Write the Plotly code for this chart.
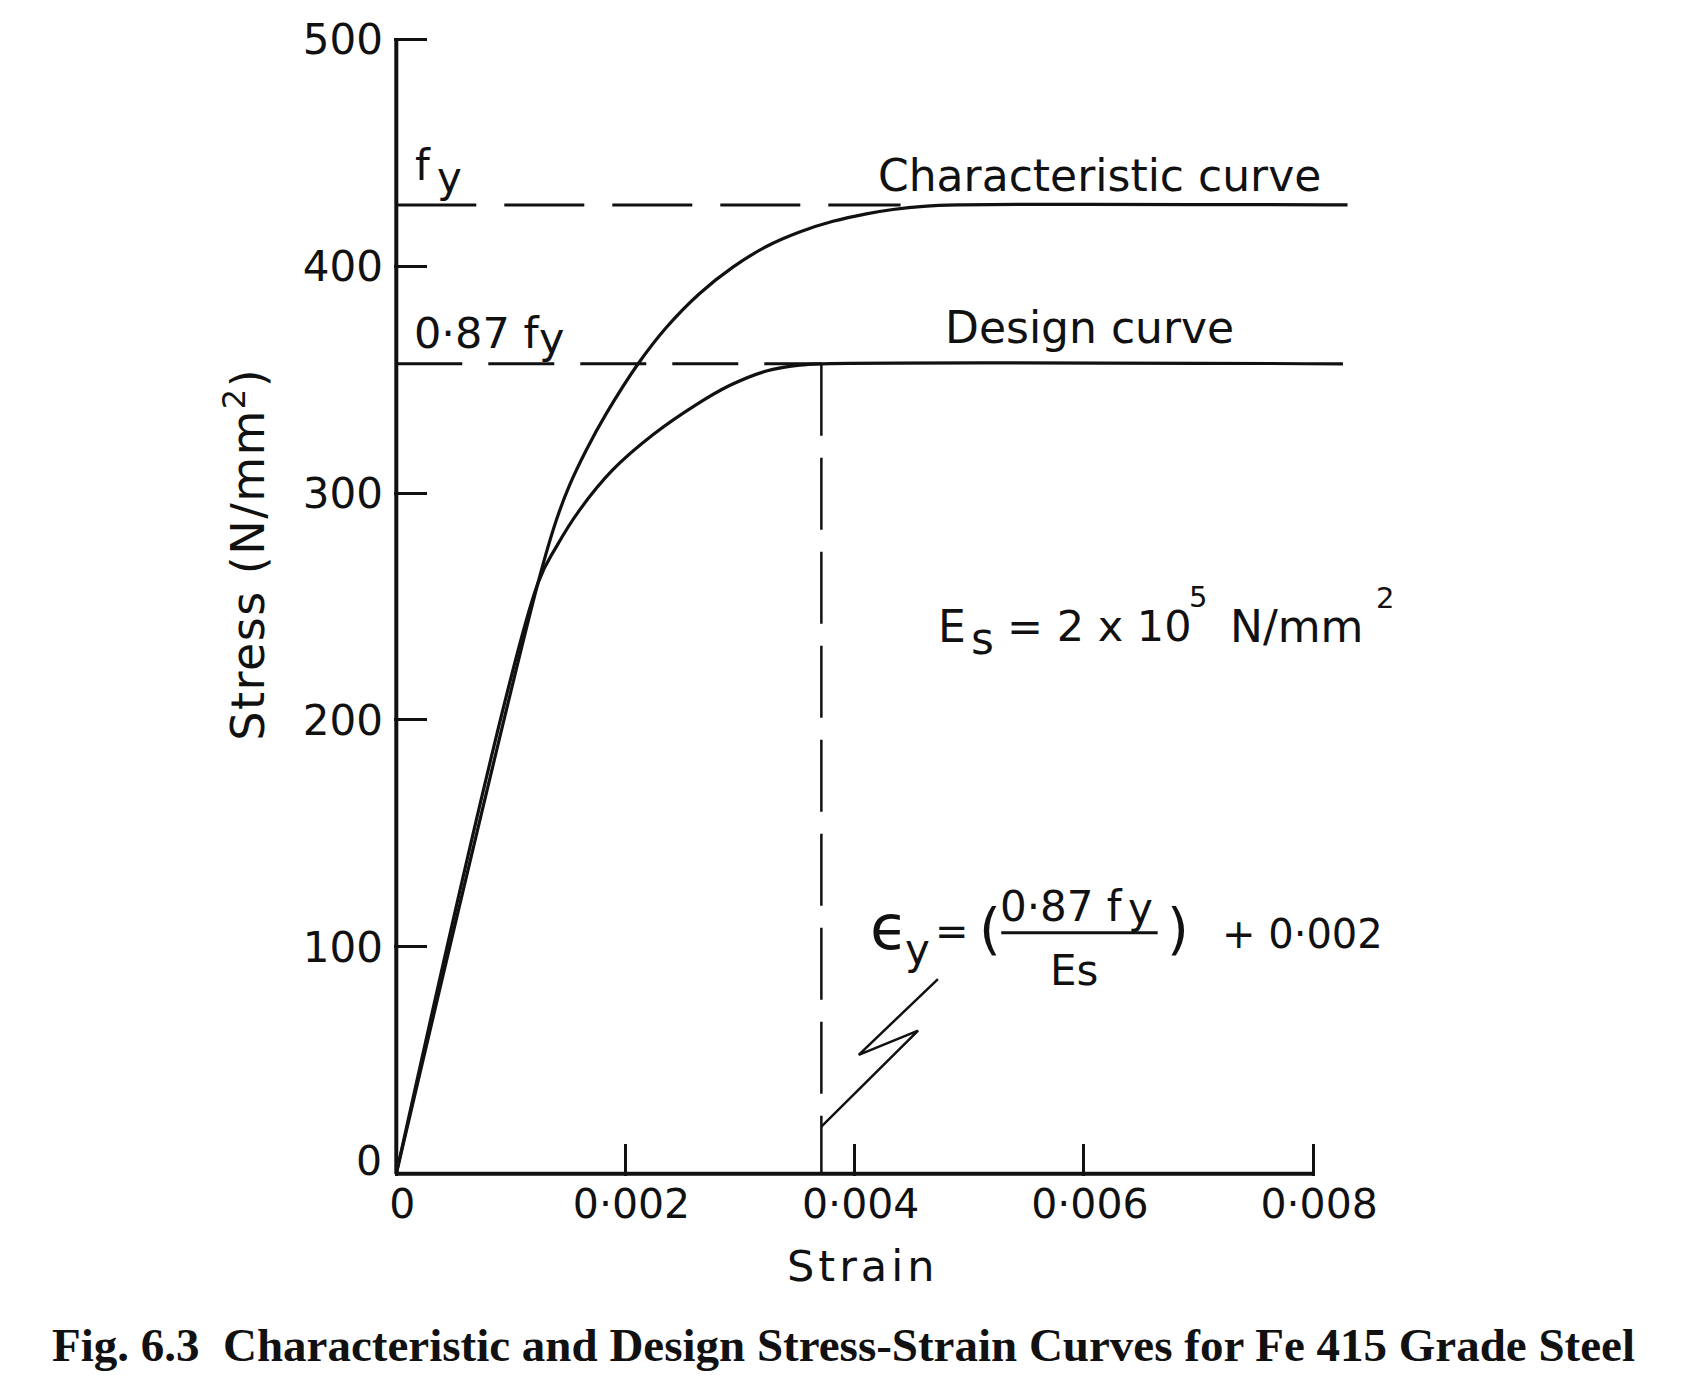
import plotly.graph_objects as go

# ---------------- data ----------------
# Characteristic stress-strain curve
char_strain = [0, 0.001236, 0.001396, 0.001512, 0.001658, 0.001832, 0.002110, 0.002356,
               0.002647, 0.002937, 0.003229, 0.003519, 0.003810, 0.004101, 0.004333,
               0.0046, 0.0049, 0.0083]
char_stress = [0, 260.3, 288.0, 303.5, 319.0, 335.0, 357.0, 373.0,
               388.0, 399.6, 408.7, 415.1, 419.8, 423.1, 425.0,
               426.4, 427.0, 427.0]

# Design stress-strain curve
design_strain = [0, 0.001236, 0.001396, 0.001599, 0.001890, 0.002239, 0.002618,
                 0.002908, 0.003229, 0.003519, 0.003709, 0.00826]
design_stress = [0, 260.3, 276.3, 292.5, 310.3, 325.7, 339.0,
                 347.4, 353.8, 356.4, 357.0, 357.0]

# Reference levels
fy_drawn = 427          # f_y level as drawn
fyd_drawn = 357         # 0.87 f_y level as drawn
eps_y = 0.003709        # yield strain of design curve as drawn
fy_dash_end = 0.0044

# Leader (zig-zag) from the epsilon_y label to the dashed line
leader_strain = [0.004726, 0.004035, 0.004553, eps_y]
leader_stress = [85.8, 52.4, 63.1, 20.8]

# Axes
x_tickvals = [0, 0.002, 0.004, 0.006, 0.008]
x_ticktext = ["0", "0\u00b7002", "0\u00b7004", "0\u00b7006", "0\u00b7008"]
y_tickvals = [100, 200, 300, 400, 500]
y_ticktext = ["100", "200", "300", "400", "500"]
y_zero_label = "0"
x_axis_max = 0.008
y_axis_max = 500

# ---------------- layout geometry (page pixels) ----------------
OFF = 8                              # default body margin of the html page
PAGE_W, PAGE_H = 1681, 1388
W, H = PAGE_W - 2 * OFF, PAGE_H - 2 * OFF
X0PX, XSCALE = 396.7, 114600.0       # page px at strain 0, px per unit strain
Y0PX, YSCALE = 1174.0, 2.27          # page px at stress 0, px per N/mm2
XR = [-0.00002, 0.0084]
YR = [-1, 505]
LEFT = X0PX + XR[0] * XSCALE
RIGHT = X0PX + XR[1] * XSCALE
BOTTOM = Y0PX - YR[0] * YSCALE
TOP = Y0PX - YR[1] * YSCALE


def PX(px):
    return (px - LEFT) / (RIGHT - LEFT)


def PY(py):
    return (BOTTOM - py) / (BOTTOM - TOP)


INK = "#111111"
FONT = "DejaVu Sans"

fig = go.Figure()

# dashed reference lines
fig.add_trace(go.Scatter(x=[0, fy_dash_end], y=[fy_drawn, fy_drawn], mode="lines",
                         line=dict(color=INK, width=3, dash="80px,28px"), hoverinfo="skip"))
fig.add_trace(go.Scatter(x=[0, eps_y], y=[fyd_drawn, fyd_drawn], mode="lines",
                         line=dict(color=INK, width=3, dash="66px,26px"), hoverinfo="skip"))
fig.add_trace(go.Scatter(x=[eps_y, eps_y], y=[fyd_drawn, 0], mode="lines",
                         line=dict(color=INK, width=2.5, dash="72px,22px"), hoverinfo="skip"))

# curves
fig.add_trace(go.Scatter(x=char_strain, y=char_stress, mode="lines",
                         line=dict(color=INK, width=3.2, shape="spline", smoothing=1),
                         name="Characteristic curve"))
fig.add_trace(go.Scatter(x=design_strain, y=design_stress, mode="lines",
                         line=dict(color=INK, width=3.2, shape="spline", smoothing=1),
                         name="Design curve"))

# leader
fig.add_trace(go.Scatter(x=leader_strain, y=leader_stress, mode="lines",
                         line=dict(color=INK, width=2.5), hoverinfo="skip"))

# axis lines
fig.add_trace(go.Scatter(x=[0, 0], y=[0, y_axis_max], mode="lines",
                         line=dict(color=INK, width=4), hoverinfo="skip"))
fig.add_trace(go.Scatter(x=[0, x_axis_max], y=[0, 0], mode="lines",
                         line=dict(color=INK, width=4), hoverinfo="skip"))

annotations = []


def txt(text, left, cy, size, anchor="left", family=FONT, angle=0):
    annotations.append(dict(
        text=text, x=PX(left), y=PY(cy), xref="paper", yref="paper",
        xanchor=anchor, yanchor="middle", showarrow=False, textangle=angle,
        font=dict(family=family, size=size, color=INK), borderpad=0))


# y "0" label (sits a little above the axis in the original)
txt(y_zero_label, 383, 1161, 41, anchor="right")

# f_y and 0.87 f_y labels
txt("f", 414, 180 - 0.346 * 42, 42)
txt("y", 436, 192 - 0.346 * 42, 42)
txt("0\u00b787 f", 413, 348 - 0.346 * 43, 43)
txt("y", 538, 353 - 0.346 * 43, 43)

# curve labels
txt("Characteristic curve", 877, 190 - 0.346 * 44, 44)
txt("Design curve", 944, 343 - 0.346 * 44, 44)

# Es = 2 x 10^5 N/mm^2
txt("E", 937, 641.4 - 0.346 * 44, 44)
txt("s", 970, 653.6 - 0.346 * 44, 44)
txt("= 2 x 10", 1006, 641.4 - 0.346 * 44, 43)
txt("5", 1188, 597, 29)
txt("N/mm", 1229, 641.4 - 0.346 * 44, 44)
txt("2", 1375, 597.5, 29)

# epsilon_y equation
txt("\u03f5", 869, 949 - 0.346 * 62, 62)
txt("y", 904, 964 - 0.346 * 42, 42)
txt("=", 934, 931.5, 40)
txt("(", 978, 929, 56)
txt("0\u00b787 f", 999, 921 - 0.346 * 42, 42)
txt("y", 1127, 923 - 0.346 * 42, 42)
txt("Es", 1049, 985 - 0.346 * 42, 42)
txt(")", 1166, 929, 56)
txt("+ 0\u00b7002", 1221, 947.5 - 0.346 * 40, 40)

# axis titles
txt("<span style='letter-spacing:4px'>Strain</span>", 863, 1281.7 - 0.346 * 44, 43,
    anchor="center")
txt("<span style='letter-spacing:1.5px'>Stress (N/mm<sup>2</sup>)</span>", 245, 554, 46,
    anchor="center", angle=-90)

# caption
txt("<b>Fig. 6.3 \u00a0Characteristic and Design Stress-Strain Curves for Fe 415 Grade Steel</b>",
    844, 1345, 47, anchor="center", family="Liberation Serif")

shapes = [dict(type="line", xref="paper", yref="paper",
               x0=PX(1001.6), x1=PX(1158), y0=PY(933), y1=PY(933),
               line=dict(color=INK, width=3))]

fig.update_layout(
    width=W, height=H, autosize=False,
    margin=dict(l=LEFT - OFF, r=(W + OFF) - RIGHT, t=TOP - OFF, b=(H + OFF) - BOTTOM,
                pad=0, autoexpand=False),
    paper_bgcolor="white", plot_bgcolor="white",
    showlegend=False,
    annotations=annotations,
    shapes=shapes,
    xaxis=dict(range=XR, showline=False, showgrid=False, zeroline=False,
               ticks="inside", ticklen=32, tickwidth=3, tickcolor=INK,
               tickvals=x_tickvals, ticktext=x_ticktext,
               tickfont=dict(family=FONT, size=41, color=INK),
               ticklabelstandoff=0, ticklabelshift=6, fixedrange=True),
    yaxis=dict(range=YR, showline=False, showgrid=False, zeroline=False,
               ticks="inside", ticklen=33, tickwidth=3, tickcolor=INK,
               tickvals=y_tickvals, ticktext=y_ticktext,
               tickfont=dict(family=FONT, size=42, color=INK),
               ticklabelstandoff=10, fixedrange=True),
)

fig.write_html("out.html")
